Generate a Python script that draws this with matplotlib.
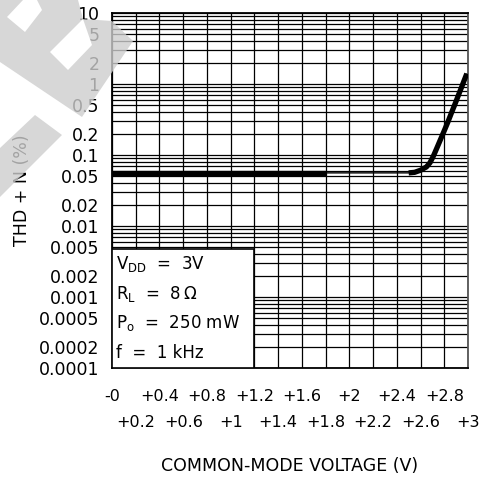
import numpy as np
import matplotlib
matplotlib.use("Agg")
import matplotlib.pyplot as plt
from matplotlib.patches import Polygon, Rectangle
from matplotlib.ticker import FixedLocator, LogLocator, NullFormatter

# ---------------- DATA ----------------
cm_voltage = [0.0, 0.4, 0.8, 1.2, 1.6, 1.8, 2.2, 2.5, 2.55, 2.6, 2.65, 2.68, 2.71, 2.74,
              2.77, 2.80, 2.83, 2.86, 2.89, 2.92, 2.95, 2.99]
thd_n = [0.056, 0.056, 0.056, 0.056, 0.056, 0.056, 0.056, 0.056, 0.057, 0.061, 0.068, 0.078,
         0.098, 0.128, 0.168, 0.22, 0.29, 0.39, 0.52, 0.70, 0.94, 1.40]

y_ticks = [0.0001, 0.0002, 0.0005, 0.001, 0.002, 0.005, 0.01, 0.02, 0.05, 0.1, 0.2, 0.5, 1, 2, 5, 10]
y_labels = ["0.0001", "0.0002", "0.0005", "0.001", "0.002", "0.005", "0.01", "0.02",
            "0.05", "0.1", "0.2", "0.5", "1", "2", "5", "10"]
x_top = [0.0, 0.4, 0.8, 1.2, 1.6, 2.0, 2.4, 2.8]
x_top_labels = ["-0", "+0.4", "+0.8", "+1.2", "+1.6", "+2", "+2.4", "+2.8"]
x_bot = [0.2, 0.6, 1.0, 1.4, 1.8, 2.2, 2.6, 3.0]
x_bot_labels = ["+0.2", "+0.6", "+1", "+1.4", "+1.8", "+2.2", "+2.6", "+3"]

cond_lines = [r"V$_{\rm DD}$  =  3V", r"R$_{\rm L}$  =  8$\,\Omega$",
              r"P$_{\rm o}$  =  250 mW", "f  =  1 kHz"]

# ---------------- FIGURE ----------------
W, H = 490, 478
fig = plt.figure(figsize=(W / 100, H / 100), dpi=100)
ax = fig.add_axes([112 / W, 1 - 368 / H, 356 / W, 355 / H])

ax.set_yscale("log")
ax.set_xlim(0, 3)
ax.set_ylim(1e-4, 10)

# grid
ax.xaxis.set_major_locator(FixedLocator(x_top))
ax.xaxis.set_minor_locator(FixedLocator(x_bot))
ax.set_xticklabels(x_top_labels)
ax.set_xticklabels(x_bot_labels, minor=True)
ax.yaxis.set_major_locator(FixedLocator(y_ticks))
ax.set_yticklabels(y_labels)
ax.yaxis.set_minor_locator(LogLocator(base=10, subs=np.arange(1, 10), numticks=30))
ax.yaxis.set_minor_formatter(NullFormatter())

ax.grid(True, which="both", color="black", linewidth=0.9)
ax.set_axisbelow(True)

ax.tick_params(axis="both", which="both", length=0)
ax.tick_params(axis="y", which="major", labelsize=12.5, pad=9)
ax.tick_params(axis="x", which="major", labelsize=11.5, pad=15)
ax.tick_params(axis="x", which="minor", labelsize=11.5, pad=34)

for s in ax.spines.values():
    s.set_linewidth(1.3)
    s.set_color("black")
ax.spines["right"].set_color("#555555")

# condition box (hides grid)
box = Rectangle((0, 1e-4), 1.2, 0.0048 - 1e-4, facecolor="white",
                edgecolor="black", linewidth=1.2, zorder=3)
ax.add_patch(box)
for i, t in enumerate(cond_lines):
    fig.text(116 / W, 1 - (264 + i * 29.5) / H, t, fontsize=12,
             va="center", ha="left")

# curve: thick where the line is drawn solid, thin in the middle part
v = np.array(cm_voltage)
y = np.array(thd_n)
ax.plot(v, y, color="black", linewidth=1.0, zorder=4, solid_capstyle="butt")
m1 = v <= 1.8
m2 = v >= 2.5
ax.plot(v[m1], y[m1], color="black", linewidth=3.8, zorder=4, solid_capstyle="butt")
ax.plot(v[m2], y[m2], color="black", linewidth=3.8, zorder=4,
        solid_capstyle="butt", solid_joinstyle="round")

ax.set_ylabel("THD + N (%)", fontsize=12.5, labelpad=6)
fig.text(290 / W, 1 - 466 / H, "COMMON-MODE VOLTAGE (V)", fontsize=12.5,
         ha="center", va="center")

# ---------------- WATERMARK ----------------
def px(points):
    return [(x / W, 1 - yy / H) for x, yy in points]

shape_a = [(0, 0), (78, 0), (83, 19), (112, 21), (133, 41), (82, 117), (0, 62)]
band_b = [(35, 115), (62, 135), (0, 197), (0, 148)]
cut_1 = [(23, 0), (37, 0), (42, 10), (25, 32), (7, 17)]
cut_2 = [(50, 52), (68, 70), (92, 45), (83, 19)]

for pts in (shape_a, band_b):
    fig.add_artist(Polygon(px(pts), closed=True, transform=fig.transFigure,
                           facecolor="#cdcdcd", edgecolor="none", alpha=0.8, zorder=10))
for pts in (cut_1, cut_2):
    fig.add_artist(Polygon(px(pts), closed=True, transform=fig.transFigure,
                           facecolor="white", edgecolor="none", zorder=11))

fig.savefig("out.png", dpi=100)
